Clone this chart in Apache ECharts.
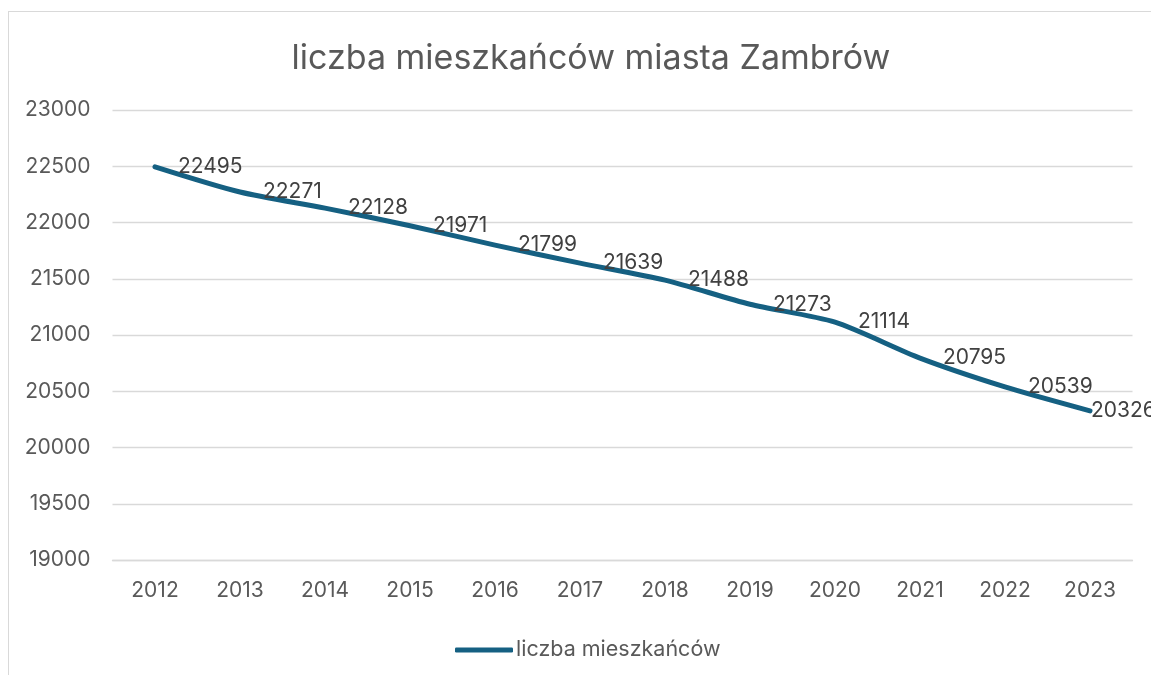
<!DOCTYPE html>
<html><head><meta charset="utf-8">
<script src="https://cdn.jsdelivr.net/npm/echarts@6/dist/echarts.min.js"></script>
<style>
html,body{margin:0;padding:0;background:#fff;}
#frame{position:absolute;left:8px;top:11px;width:1200px;height:700px;border:1px solid #d9d9d9;box-sizing:border-box;}
#c{position:absolute;left:0;top:0;width:1151px;height:675px;}
</style></head>
<body>
<div id="frame"></div>
<div id="c"></div>
<script>
const years = ['2012','2013','2014','2015','2016','2017','2018','2019','2020','2021','2022','2023'];
const population = [22495,22271,22128,21971,21799,21639,21488,21273,21114,20795,20539,20326];
const seriesName = 'liczba mieszkańców';
const titleText = 'liczba mieszkańców miasta Zambrów';

const font = 'Inter, "Noto Sans", sans-serif';
const seriesData = population.map((v, i) => i === population.length - 1
  ? {value: v, label: {distance: 0}} : v);

const chart = echarts.init(document.getElementById('c'));
chart.setOption({
  animation:false,
  title:{text:titleText,left:586,textAlign:'center',top:37,textStyle:{fontFamily:font,fontSize:34,fontWeight:'normal',color:'#595959'}},
  grid:{left:112.5,right:18.5,top:110,bottom:115,containLabel:false},
  legend:{top:634,left:450,itemWidth:58,itemHeight:5,itemGap:4,icon:'roundRect',
    itemStyle:{color:'#156082',opacity:1,borderWidth:0},
    textStyle:{fontFamily:font,fontSize:21.5,color:'#595959',padding:[0,0,0,-2]},data:[seriesName]},
  xAxis:{type:'category',data:years,boundaryGap:true,
    axisLine:{show:true,lineStyle:{color:'#d9d9d9',width:1.3}},axisTick:{show:false},
    axisLabel:{fontFamily:font,fontSize:21,color:'#595959',margin:20}},
  yAxis:{type:'value',min:19000,max:23000,interval:500,
    axisLine:{show:false},axisTick:{show:false},
    splitLine:{lineStyle:{color:'#d9d9d9',width:1.3}},
    axisLabel:{fontFamily:font,fontSize:21,color:'#595959',margin:22,formatter:v=>String(v)}},
  series:[{name:seriesName,type:'line',data:seriesData,smooth:0.25,symbol:'circle',symbolSize:2,showSymbol:true,
    lineStyle:{color:'#156082',width:5,cap:'round',join:'round'},itemStyle:{color:'#156082'},
    label:{show:true,position:'right',distance:22,fontFamily:font,fontSize:21,color:'#404040'}}]
});
</script>
</body></html>
